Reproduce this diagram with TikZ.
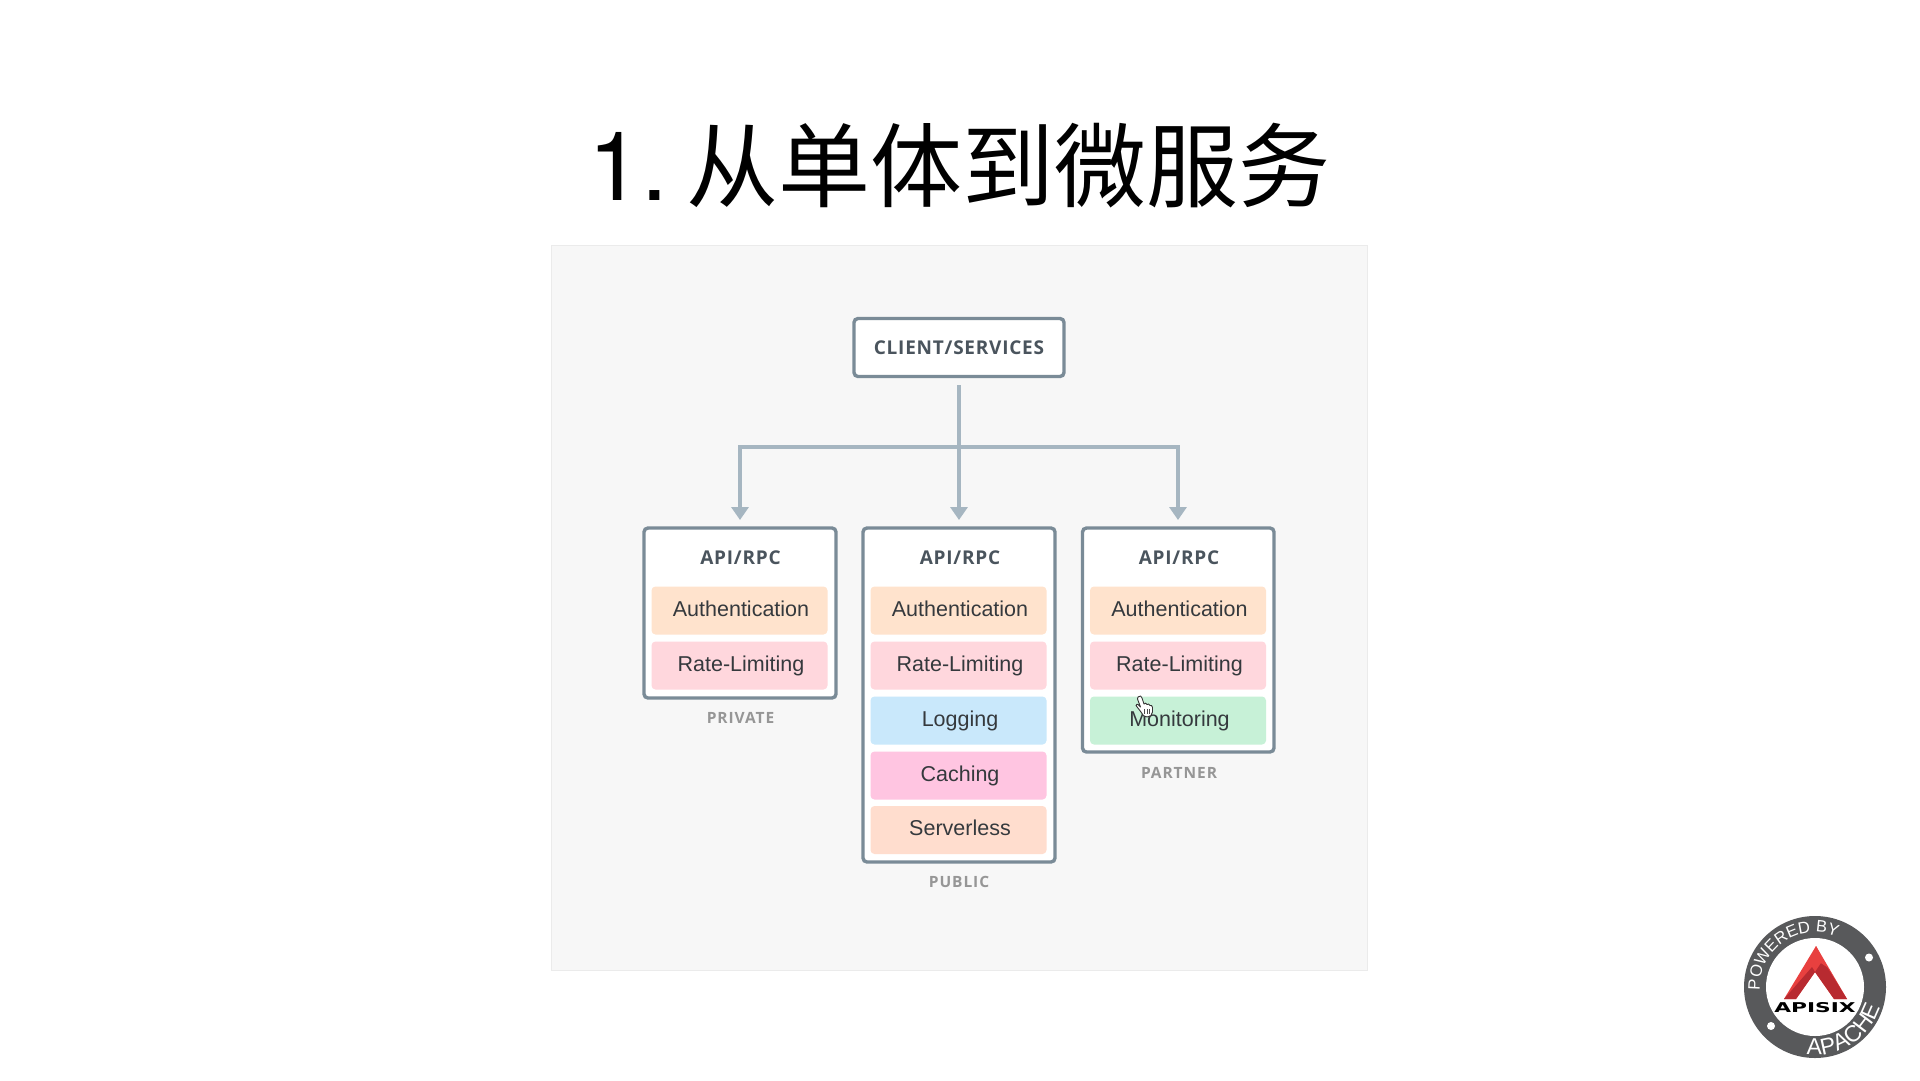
\documentclass[tikz,border=0pt]{standalone}
\usepackage{fontspec}
\setmainfont{Liberation Sans}
\setsansfont{Open Sans}
\newfontfamily\cjk{Noto Sans CJK SC}
\newfontfamily\logofont{DejaVu Sans}
\newfontfamily\numfont{TeX Gyre Heros}
\usetikzlibrary{arrows.meta,decorations.text}
\definecolor{panelbg}{HTML}{F7F7F7}
\definecolor{panelln}{HTML}{EBEBEB}
\definecolor{boxln}{HTML}{7A8B97}
\definecolor{conn}{HTML}{A6B6C1}
\definecolor{head}{HTML}{4A545D}
\definecolor{itemtx}{HTML}{35393D}
\definecolor{cap}{HTML}{969696}
\definecolor{cauth}{HTML}{FFE3CD}
\definecolor{crate}{HTML}{FFD7DD}
\definecolor{clog}{HTML}{C9E8FB}
\definecolor{ccache}{HTML}{FFC5E1}
\definecolor{cserv}{HTML}{FFDDCE}
\definecolor{cmon}{HTML}{C7F1D7}
\definecolor{ring}{HTML}{58595B}
\definecolor{redA}{HTML}{E8403F}
\definecolor{redB}{HTML}{B82A30}
\begin{document}
\begin{tikzpicture}[x=1pt,y=-1pt,
  framebox/.style={draw=boxln,line width=3.4pt,rounded corners=4pt,fill=white,minimum width=#1,inner sep=0pt},
  frametall/.style={draw=boxln,line width=3.4pt,rounded corners=4pt,fill=white},
  item/.style={fill=#1,rounded corners=4pt,minimum width=176pt,minimum height=48pt,inner sep=0pt,
    text height=15pt,text depth=4pt,text=itemtx,font=\fontsize{21.5}{24}\selectfont,
    execute at begin node={\hspace*{3pt}}},
  headlabel/.style={text=head,font=\sffamily\bfseries\fontsize{19}{22}\selectfont\addfontfeature{LetterSpace=4}},
  caplabel/.style={text=cap,font=\sffamily\bfseries\fontsize{15.5}{18}\selectfont\addfontfeature{LetterSpace=6}},
  link/.style={draw=conn,line width=3.4pt},
  linkarrow/.style={link,-{Triangle[length=13pt,width=17pt]}}]
\useasboundingbox (0,0) rectangle (1920,1080);
\fill[white] (0,0) rectangle (1920,1080);
\node[anchor=base west,inner sep=0pt] (title) at (588,200)
  {{\numfont\fontsize{96}{110}\selectfont 1.}\hspace{18pt}{\cjk\fontsize{92}{110}\selectfont 从单体到微服务}};
% panel
\path[fill=panelbg,draw=panelln,line width=1pt] (551,245.5) rectangle (1367.5,970);
% client
\node[framebox=210pt,minimum height=58pt,headlabel] (client) at (959,347.5) {CLIENT/SERVICES};
% boxes
\draw[frametall] (644,528) rectangle (836,698);
\draw[frametall] (863,528) rectangle (1055,862);
\draw[frametall] (1082.5,528) rectangle (1274,752);
\coordinate (pL) at (740,520);
\coordinate (pM) at (959,520);
\coordinate (pR) at (1178,520);
\coordinate (cOut) at (959,385);
\coordinate (jun) at (959,447);
\coordinate (jL) at (740,447);
\coordinate (jR) at (1178,447);
\draw[link] (cOut) -- (jun);
\draw[linkarrow] (jun) -- (pM);
\draw[linkarrow] (jun) -- (jL) -- (pL);
\draw[linkarrow] (jun) -- (jR) -- (pR);
% left
\node[headlabel] (h1) at (740.5,557.5) {API/RPC};
\node[item=cauth] (a1) at (739.5,610.5) {Authentication};
\node[item=crate] (r1) at (739.5,665.5) {Rate-Limiting};
\node[caplabel] (c1) at (740.5,718) {PRIVATE};
% middle
\node[headlabel] (h2) at (960,557.5) {API/RPC};
\node[item=cauth] (a2) at (958.5,610.5) {Authentication};
\node[item=crate] (r2) at (958.5,665.5) {Rate-Limiting};
\node[item=clog] (l2) at (958.5,720.5) {Logging};
\node[item=ccache] (k2) at (958.5,775.5) {Caching};
\node[item=cserv] (s2) at (958.5,830) {Serverless};
\node[caplabel] (c2) at (959,882) {PUBLIC};
% right
\node[headlabel] (h3) at (1179,557.5) {API/RPC};
\node[item=cauth] (a3) at (1178,610.5) {Authentication};
\node[item=crate] (r3) at (1178,665.5) {Rate-Limiting};
\node[item=cmon] (m3) at (1178,720.5) {Monitoring};
\node[caplabel] (c3) at (1179,773) {PARTNER};
% hand cursor
\begin{scope}[shift={(1136,696)}]
\draw[fill=white,draw=black!80,line width=.9pt,line join=round]
  (2,1) .. controls (4,-1) and (5.5,0) .. (6,2) -- (8,8)
  .. controls (9,6.5) and (10.5,7) .. (11,8.5)
  .. controls (12,7.5) and (13.5,8) .. (14,9.5)
  .. controls (15,9) and (16.5,9.5) .. (16.5,11.5)
  -- (16.5,16) .. controls (16.5,19) and (14,21) .. (11,21)
  .. controls (8,21) and (6.5,19) .. (5,16) -- (0,9.5)
  .. controls (-.5,8) and (1.5,7) .. (4.5,11) -- (1.5,3) -- cycle;
\draw[black!70,line width=.7pt] (8.5,13) -- (8.5,18) (11,13) -- (11,18) (13.5,13) -- (13.5,18);
\end{scope}
% badge
\begin{scope}[shift={(1815,987)},x=1pt,y=1pt]
\fill[ring] (0,0) circle[radius=71pt];
\fill[white] (0,0) circle[radius=49pt];
\fill[white] (54,29.5) circle[radius=4pt];
\fill[white] (-44,-39) circle[radius=4pt];
\path[postaction={decorate},decoration={text along path,text color=white,
   text={|\fontsize{16.5}{20}\selectfont|POWERED BY},text align={left}}]
   (-55,-3) arc[start angle=183,end angle=40,radius=55pt];
\path[postaction={decorate},decoration={text along path,text color=white,
   text={|\fontsize{23}{26}\selectfont|APACHE},text align={left}}]
   (-8.3,-67.5) arc[start angle=263,end angle=360,radius=68pt];
% logo: A with chevron shading
\fill[redA] (1,41) -- (-31,-12) -- (-19,-12) -- (0,15) -- (19,-12) -- (32,-12) -- cycle;
\fill[redB] (-31,-12) -- (-3,20) -- (0,15) -- (-19,-12) -- cycle;
\fill[redB] (32,-12) -- (12,20) -- (6,24) -- (0,15) -- (19,-12) -- cycle;
\fill[redA] (1,41) -- (-3,20) -- (6,24) -- (12,20) -- cycle;
\node[inner sep=0pt,text=black,xscale=1.45,yscale=.9] (logo) at (0,-21)
  {\logofont\bfseries\fontsize{15}{16}\selectfont APISIX};
\end{scope}
\end{tikzpicture}
\end{document}
